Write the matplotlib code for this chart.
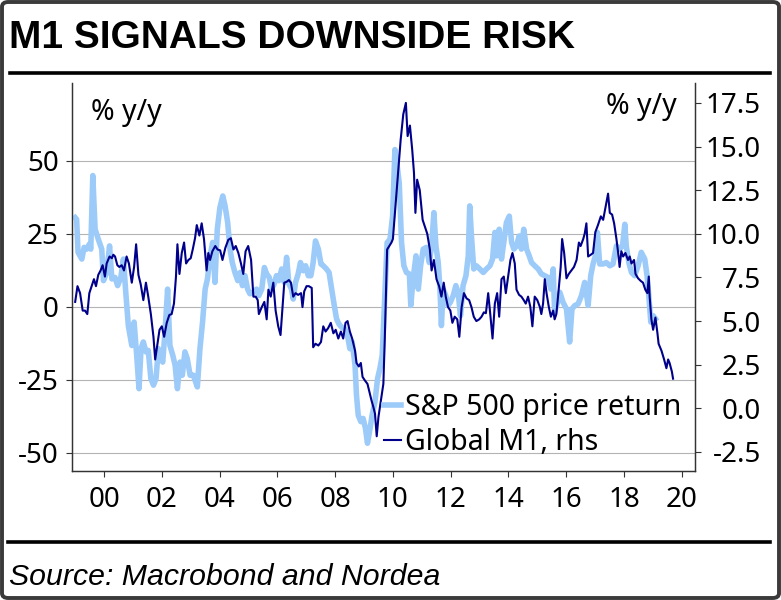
import numpy as np
import matplotlib
matplotlib.use("Agg")
import matplotlib.pyplot as plt
from matplotlib.lines import Line2D
from matplotlib.patches import FancyBboxPatch

# S&P 500 price return, % y/y (left axis)
sp_year = [
    1999.00, 1999.05, 1999.10, 1999.23, 1999.31, 1999.40, 1999.49, 1999.54, 1999.61, 1999.69,
    1999.80, 1999.92, 1999.98, 2000.09, 2000.19, 2000.27, 2000.38, 2000.47, 2000.58, 2000.67,
    2000.76, 2000.84, 2000.96, 2001.04, 2001.13, 2001.21, 2001.28, 2001.36, 2001.45, 2001.53,
    2001.62, 2001.71, 2001.80, 2001.88, 2001.96, 2002.03, 2002.11, 2002.20, 2002.28, 2002.38,
    2002.46, 2002.54, 2002.63, 2002.71, 2002.80, 2002.88, 2002.98, 2003.09, 2003.23, 2003.32,
    2003.41, 2003.50, 2003.58, 2003.67, 2003.76, 2003.84, 2003.92, 2004.01, 2004.11, 2004.19,
    2004.28, 2004.36, 2004.44, 2004.53, 2004.63, 2004.71, 2004.79, 2004.88, 2004.97, 2005.05,
    2005.17, 2005.28, 2005.36, 2005.46, 2005.55, 2005.63, 2005.72, 2005.80, 2005.89, 2005.97,
    2006.05, 2006.15, 2006.24, 2006.32, 2006.40, 2006.49, 2006.55, 2006.63, 2006.72, 2006.80,
    2006.90, 2006.98, 2007.07, 2007.16, 2007.24, 2007.32, 2007.42, 2007.51, 2007.59, 2007.70,
    2007.79, 2007.88, 2007.97, 2008.05, 2008.13, 2008.22, 2008.34, 2008.43, 2008.51, 2008.59,
    2008.69, 2008.74, 2008.80, 2008.89, 2008.97, 2009.05, 2009.12, 2009.21, 2009.28, 2009.38,
    2009.47, 2009.55, 2009.63, 2009.72, 2009.80, 2009.90, 2009.99, 2010.07, 2010.15, 2010.22,
    2010.30, 2010.38, 2010.47, 2010.57, 2010.62, 2010.70, 2010.80, 2010.88, 2010.96, 2011.05,
    2011.16, 2011.26, 2011.34, 2011.42, 2011.49, 2011.57, 2011.63, 2011.68, 2011.74, 2011.83,
    2011.91, 2011.99, 2012.09, 2012.18, 2012.26, 2012.34, 2012.43, 2012.53, 2012.61, 2012.66,
    2012.72, 2012.80, 2012.89, 2013.01, 2013.13, 2013.24, 2013.36, 2013.45, 2013.53, 2013.59,
    2013.68, 2013.76, 2013.84, 2013.93, 2014.03, 2014.11, 2014.19, 2014.28, 2014.37, 2014.45,
    2014.53, 2014.63, 2014.72, 2014.80, 2014.91, 2015.03, 2015.14, 2015.26, 2015.37, 2015.47,
    2015.55, 2015.60, 2015.70, 2015.78, 2015.89, 2016.01, 2016.12, 2016.20, 2016.30, 2016.41,
    2016.53, 2016.64, 2016.76, 2016.85, 2016.93, 2017.01, 2017.08, 2017.16, 2017.28, 2017.39,
    2017.51, 2017.62, 2017.74, 2017.85, 2017.95, 2018.03, 2018.08, 2018.17, 2018.26, 2018.37,
    2018.49, 2018.60, 2018.72, 2018.80, 2018.86, 2018.93, 2019.01, 2019.09,
]
sp_val = [
    30.5, 29.9, 18.6, 16.3, 20.3, 19.7, 21.4, 19.7, 44.9, 26.5,
    23.1, 19.7, 8.9, 11.7, 20.8, 9.5, 10.0, 7.2, 10.0, 16.3,
    3.8, -6.5, -13.3, -5.3, -16.7, -28.1, -14.4, -12.1, -15.5, -15.0,
    -24.6, -26.9, -24.6, -14.4, -16.7, -19.0, -8.7, 6.0, -13.3, -16.7,
    -20.1, -28.1, -19.0, -23.5, -15.5, -17.8, -23.5, -23.5, -27.5, -14.4,
    -5.3, 6.0, 9.5, 17.4, 22.0, 8.3, 26.5, 33.9, 37.9, 34.5,
    28.8, 19.7, 15.1, 11.7, 8.9, 11.7, 7.2, 10.6, 6.0, 4.4,
    4.9, 6.0, 3.8, 6.0, 13.4, 11.2, 10.0, 6.0, 7.8, 10.6,
    8.9, 12.9, 8.3, 16.9, 7.8, 6.0, 2.6, 8.3, 11.2, 15.1,
    12.3, 14.0, 10.6, 10.6, 15.1, 22.5, 19.7, 14.6, 14.0, 12.9,
    11.7, 6.0, 0.4, -4.2, -5.9, -7.0, -7.6, -9.9, -14.4, -12.1,
    -20.1, -30.3, -37.2, -39.4, -38.3, -41.7, -46.8, -41.7, -37.2, -32.6,
    -24.6, -21.2, -16.7, 3.8, 21.9, 23.1, 31.0, 53.8, 48.1, 42.4,
    21.9, 14.0, 11.7, 11.2, 0.4, 9.5, 17.4, 6.0, 14.0, 19.7,
    20.3, 15.1, 20.8, 32.2, 20.8, 15.1, 6.0, -6.5, 6.0, 3.8,
    0.4, 1.5, 3.8, 7.2, 4.9, -3.1, 7.2, 10.6, 17.4, 34.5,
    24.2, 12.9, 14.0, 12.9, 11.7, 12.9, 14.0, 16.3, 25.4, 17.4,
    26.5, 16.3, 22.0, 28.8, 31.0, 22.0, 19.7, 20.8, 24.2, 19.7,
    26.5, 19.7, 17.4, 15.1, 14.0, 12.9, 11.2, 10.6, 10.0, 6.0,
    12.9, -1.9, 1.5, 4.9, 1.5, -0.8, -12.1, -0.8, 0.4, 0.9,
    3.8, 8.3, 0.4, 10.6, 14.6, 17.4, 25.4, 14.6, 14.6, 15.1,
    14.0, 14.6, 20.8, 19.7, 20.8, 28.2, 20.8, 15.1, 11.7, 10.6,
    14.0, 18.6, 16.3, 10.6, 3.8, -5.3, -3.1, -4.2,
]

# Global M1, % y/y (right axis)
m1_year = [
    1999.00, 1999.08, 1999.17, 1999.26, 1999.34, 1999.42, 1999.49, 1999.57, 1999.65, 1999.72,
    1999.80, 1999.88, 1999.95, 2000.03, 2000.09, 2000.19, 2000.27, 2000.32, 2000.38, 2000.46,
    2000.53, 2000.61, 2000.69, 2000.78, 2000.86, 2000.96, 2001.04, 2001.11, 2001.19, 2001.27,
    2001.36, 2001.45, 2001.53, 2001.62, 2001.71, 2001.77, 2001.85, 2001.92, 2002.00, 2002.08,
    2002.17, 2002.26, 2002.34, 2002.42, 2002.49, 2002.54, 2002.61, 2002.69, 2002.77, 2002.84,
    2002.92, 2003.00, 2003.07, 2003.15, 2003.21, 2003.30, 2003.38, 2003.46, 2003.55, 2003.61,
    2003.67, 2003.75, 2003.85, 2003.93, 2004.02, 2004.10, 2004.20, 2004.30, 2004.39, 2004.48,
    2004.56, 2004.65, 2004.74, 2004.82, 2004.90, 2004.99, 2005.09, 2005.17, 2005.25, 2005.32,
    2005.36, 2005.46, 2005.55, 2005.63, 2005.69, 2005.77, 2005.86, 2005.94, 2006.03, 2006.11,
    2006.17, 2006.24, 2006.32, 2006.40, 2006.47, 2006.55, 2006.63, 2006.72, 2006.82, 2006.87,
    2006.93, 2007.01, 2007.09, 2007.19, 2007.24, 2007.32, 2007.42, 2007.51, 2007.59, 2007.67,
    2007.76, 2007.85, 2007.94, 2008.02, 2008.11, 2008.20, 2008.28, 2008.36, 2008.43, 2008.51,
    2008.59, 2008.69, 2008.74, 2008.82, 2008.89, 2008.95, 2009.03, 2009.12, 2009.20, 2009.26,
    2009.32, 2009.38, 2009.44, 2009.50, 2009.60, 2009.67, 2009.72, 2009.76, 2009.80, 2009.95,
    2010.00, 2010.18, 2010.27, 2010.36, 2010.45, 2010.51, 2010.59, 2010.67, 2010.73, 2010.78,
    2010.84, 2010.93, 2011.03, 2011.11, 2011.19, 2011.28, 2011.34, 2011.42, 2011.51, 2011.60,
    2011.68, 2011.76, 2011.83, 2011.91, 2011.99, 2012.06, 2012.14, 2012.23, 2012.30, 2012.38,
    2012.46, 2012.55, 2012.64, 2012.72, 2012.80, 2012.89, 2012.99, 2013.07, 2013.15, 2013.22,
    2013.30, 2013.38, 2013.45, 2013.53, 2013.61, 2013.68, 2013.76, 2013.84, 2013.91, 2013.99,
    2014.07, 2014.14, 2014.22, 2014.28, 2014.37, 2014.45, 2014.53, 2014.60, 2014.68, 2014.76,
    2014.83, 2014.91, 2015.00, 2015.09, 2015.14, 2015.20, 2015.26, 2015.32, 2015.40, 2015.47,
    2015.55, 2015.60, 2015.66, 2015.74, 2015.81, 2015.86, 2015.93, 2016.01, 2016.09, 2016.18,
    2016.27, 2016.36, 2016.44, 2016.50, 2016.59, 2016.64, 2016.70, 2016.76, 2016.85, 2016.93,
    2017.01, 2017.10, 2017.20, 2017.28, 2017.36, 2017.45, 2017.51, 2017.59, 2017.66, 2017.74,
    2017.80, 2017.85, 2017.91, 2017.97, 2018.05, 2018.14, 2018.20, 2018.26, 2018.35, 2018.40,
    2018.49, 2018.58, 2018.66, 2018.74, 2018.81, 2018.86, 2018.89, 2018.95, 2019.01, 2019.09,
    2019.16, 2019.20, 2019.30, 2019.39, 2019.47, 2019.53, 2019.58, 2019.66, 2019.70,
]
m1_val = [
    6.1, 7.0, 6.6, 5.6, 5.6, 5.4, 6.6, 7.0, 7.4, 7.0,
    7.65, 7.9, 8.2, 7.55, 8.3, 8.7, 8.6, 8.8, 8.7, 8.2,
    8.1, 8.2, 7.9, 8.7, 8.3, 7.2, 8.1, 9.4, 7.65, 7.1,
    6.2, 7.2, 6.4, 5.4, 4.1, 2.8, 3.7, 4.5, 4.7, 4.1,
    4.9, 5.35, 5.4, 6.0, 7.55, 9.4, 7.7, 8.9, 9.5, 8.3,
    8.5, 8.6, 9.1, 9.75, 10.5, 9.9, 10.6, 9.7, 7.9, 8.9,
    8.5, 9.0, 9.3, 9.1, 9.05, 8.5, 9.2, 9.65, 9.75, 9.1,
    9.3, 8.9, 8.3, 7.7, 9.0, 9.3, 8.5, 6.4, 6.4, 6.2,
    5.4, 5.8, 6.1, 5.1, 6.8, 6.4, 7.2, 5.6, 4.7, 4.2,
    5.6, 7.2, 7.25, 7.35, 7.2, 6.4, 6.6, 6.5, 6.6, 5.8,
    6.7, 7.0, 7.0, 6.9, 3.5, 3.7, 3.6, 3.8, 4.7, 4.4,
    4.6, 4.9, 4.3, 4.5, 4.0, 4.4, 4.0, 4.9, 5.0, 4.4,
    4.0, 3.3, 2.6, 2.4, 2.6, 1.8, 1.6, 1.4, 0.85, 0.45,
    0.1, -0.3, -1.6, -0.5, 0.6, 1.4, 4.0, 6.6, 9.1, 9.5,
    9.7, 13.5, 15.4, 16.85, 17.5, 15.6, 16.2, 14.8, 13.5, 11.2,
    13.1, 12.5, 10.8, 10.4, 10.0, 9.1, 7.9, 8.5, 7.4, 7.0,
    6.4, 7.2, 6.4, 5.8, 5.6, 4.9, 5.25, 5.1, 4.1, 5.8,
    6.6, 6.3, 6.2, 5.8, 5.25, 5.0, 5.1, 5.25, 5.5, 5.45,
    6.6, 5.25, 4.0, 6.0, 6.6, 5.25, 7.4, 7.55, 6.6, 7.55,
    8.5, 8.9, 8.3, 6.8, 6.5, 6.4, 6.2, 6.0, 6.4, 5.8,
    4.7, 6.4, 6.2, 5.8, 5.4, 6.0, 7.4, 6.6, 5.8, 5.25,
    5.6, 5.1, 5.4, 6.8, 8.1, 9.7, 8.9, 7.45, 7.7, 7.9,
    8.1, 8.5, 9.5, 9.3, 9.7, 10.0, 10.6, 8.7, 8.8, 8.9,
    10.1, 10.5, 11.0, 10.8, 11.5, 12.3, 11.2, 11.1, 10.6, 9.7,
    8.9, 8.1, 9.0, 8.7, 8.9, 8.5, 8.7, 8.3, 8.5, 7.7,
    7.45, 7.3, 7.2, 6.8, 6.6, 7.55, 6.4, 5.1, 4.5, 5.2,
    4.3, 3.7, 3.3, 2.8, 2.3, 2.8, 2.6, 2.1, 1.7,
]

left_ticks = [-50, -25, 0, 25, 50]
right_ticks = [-2.5, 0.0, 2.5, 5.0, 7.5, 10.0, 12.5, 15.0, 17.5]
year_ticks = list(range(2000, 2021, 2))

light_blue = "#9ccbf9"
navy = "#00008b"
font = "Noto Sans"

W, H = 781, 600
fig = plt.figure(figsize=(W / 100, H / 100), dpi=100)

ax = fig.add_axes([72 / W, 1 - 471 / H, (695 - 72) / W, (471 - 83) / H])
ax2 = ax.twinx()

ax.plot(sp_year, sp_val, color=light_blue, lw=4.0, solid_joinstyle="round",
        label="S&P 500 price return", zorder=3)
ax2.plot(m1_year, m1_val, color=navy, lw=1.5, label="Global M1, rhs", zorder=4)

ax.set_xlim(1998.89, 2020.46)
ax.set_ylim(-56.3, 76.6)
ax2.set_ylim(-3.59, 18.64)

ax.set_xticks(year_ticks)
ax.set_xticklabels([f"{y % 100:02d}" for y in year_ticks])
ax.set_yticks(left_ticks)
ax.set_yticklabels([str(v) for v in left_ticks])
ax2.set_yticks(right_ticks)
ax2.set_yticklabels([f"{v:.1f}" for v in right_ticks])

ax.yaxis.grid(True, color="#b4b4b4", lw=0.8)
ax.set_axisbelow(True)

for a in (ax, ax2):
    a.spines["top"].set_visible(False)
    for s in ("left", "right", "bottom"):
        a.spines[s].set_color("#333333")
        a.spines[s].set_linewidth(0.9)

ax.tick_params(axis="both", length=4.5, width=0.8, color="#333333",
               labelsize=20, pad=5)
ax.tick_params(axis="x", pad=6)
ax2.tick_params(axis="y", length=4.5, width=0.8, color="#333333",
                labelsize=20, pad=43)
for lbl in ax.get_xticklabels() + ax.get_yticklabels() + ax2.get_yticklabels():
    lbl.set_family(font)
for lbl in ax2.get_yticklabels():
    lbl.set_horizontalalignment("right")

ax.text(0.03, 0.925, "% y/y", transform=ax.transAxes, fontsize=20.5,
        family=font, ha="left", va="center")
ax2.text(0.97, 0.94, "% y/y", transform=ax.transAxes, fontsize=20.5,
         family=font, ha="right", va="center")

handles = ax.get_lines() + ax2.get_lines()
ax2.legend(handles, [h.get_label() for h in handles], loc="lower left",
           bbox_to_anchor=(0.5, 0.035), frameon=False, borderpad=0,
           borderaxespad=0, handlelength=0.62, handletextpad=0.12,
           labelspacing=0.22, prop={"family": font, "size": 20.5})

# header, rules, source and the outer frame
fig.text(9 / W, 1 - 48 / H, "M1 SIGNALS DOWNSIDE RISK", fontsize=28,
         fontweight="bold", family="Liberation Sans", va="baseline")
fig.add_artist(Line2D([10 / W, 770 / W], [1 - 73 / H] * 2, lw=2.6, color="black"))
fig.add_artist(Line2D([8 / W, 770 / W], [1 - 542 / H] * 2, lw=2.6, color="black"))
fig.text(9 / W, 1 - 585 / H, "Source: Macrobond and Nordea", fontsize=21.8,
         style="italic", family="Liberation Sans", va="baseline")
fig.add_artist(FancyBboxPatch((2 / W, 2 / H), (W - 4) / W, (H - 4) / H,
                              boxstyle="round,pad=0,rounding_size=0.008",
                              transform=fig.transFigure, fill=False,
                              lw=2.8, edgecolor="#3a3a3a"))

fig.savefig("out.png", dpi=100)
